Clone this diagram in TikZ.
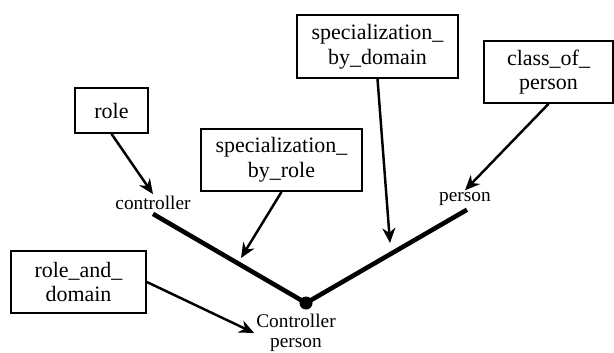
\documentclass[tikz,border=0pt]{standalone}
\usepackage{fontspec}
\setmainfont{Liberation Serif}
\usetikzlibrary{arrows.meta,positioning}

\begin{document}
\begin{tikzpicture}[x=0.02cm,y=-0.02cm,
 box/.style={draw,line width=1pt,align=center,inner sep=0pt,font=\rmfamily\fontsize{12.5}{14}\selectfont},
 lbl/.style={align=center,inner sep=1pt,font=\rmfamily\fontsize{11}{11.5}\selectfont},
 arr/.style={-{Stealth[length=3mm,width=2.6mm]},line width=1.4pt},
 spoke/.style={line width=2.6pt}]
\useasboundingbox (0,0) rectangle (614,352);
% concept boxes
\node[box,minimum width=73*0.02cm,minimum height=45*0.02cm] (role) at (111.5,110.5) {role};
\node[box,minimum width=161*0.02cm,minimum height=62*0.02cm] (specrole) at (281.5,160) {specialization\_\\by\_role};
\node[box,minimum width=135*0.02cm,minimum height=62*0.02cm] (roledom) at (78.5,282) {role\_and\_\\domain};
\node[box,minimum width=161*0.02cm,minimum height=63*0.02cm] (specdom) at (377.5,46.5) {specialization\_\\by\_domain};
\node[box,minimum width=129*0.02cm,minimum height=62*0.02cm] (classpers) at (548.5,72) {class\_of\_\\person};
% plain labels
\node[lbl] (ctrl) at (153,203) {controller};
\node[lbl] (pers) at (465,199) {person};
\node[lbl] (ctrlpers) at (296,333) {Controller\\person};
\fill (306,303) circle (6.5) coordinate (dot);
\coordinate (rolehit) at (241,258);
\coordinate (domhit) at (390,243);
% thick spokes
\draw[spoke] (ctrl.south) ++(0,2) -- (dot);
\draw[spoke] (pers.south) ++(2,2) -- (dot);
% arrows
\draw[arr] (role.south) -- (ctrl.north);
\draw[arr] (specrole.south) -- (rolehit);
\draw[arr] (specdom.south) -- (domhit);
\draw[arr] (classpers.south) -- (pers.north);
\draw[arr] (roledom.east) -- (ctrlpers.west);
\end{tikzpicture}
\end{document}
